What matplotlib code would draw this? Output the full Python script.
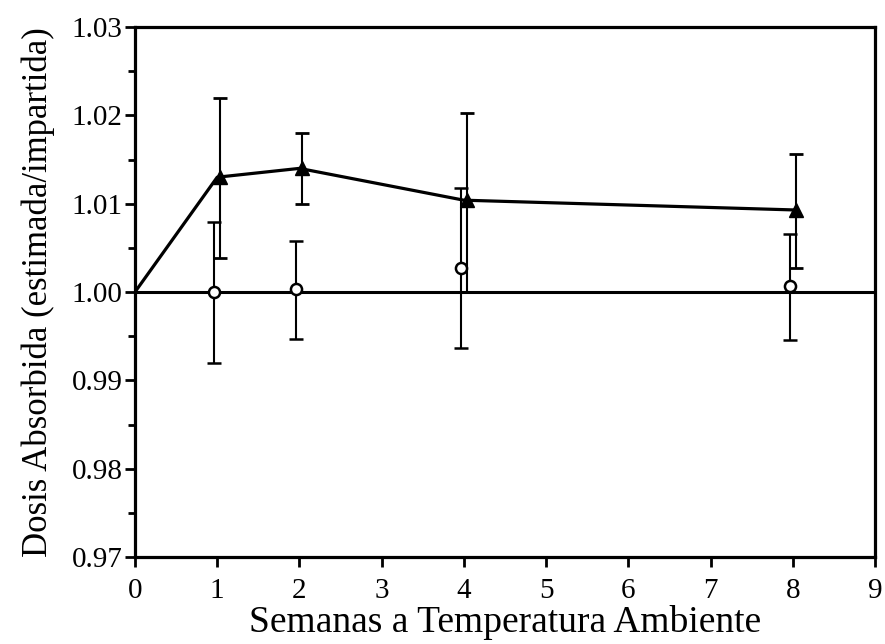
import matplotlib
matplotlib.use("Agg")
import matplotlib.pyplot as plt
import matplotlib.transforms as mtransforms
from matplotlib.ticker import MultipleLocator, FormatStrFormatter

plt.rcParams['font.family'] = ['Liberation Serif', 'DejaVu Serif']

# Weeks stored at room temperature
weeks = [1, 2, 4, 8]

# Estimated / delivered absorbed dose ratio, triangles (connected series)
tri_start_week = 0
tri_start_value = 1.000
tri_values = [1.013, 1.014, 1.0104, 1.0093]
tri_low = [1.0039, 1.010, 1.0000, 1.0027]
tri_high = [1.022, 1.018, 1.0203, 1.0156]

# Open circles
circ_values = [1.000, 1.0003, 1.0027, 1.0007]
circ_low = [0.992, 0.9947, 0.9937, 0.9946]
circ_high = [1.0079, 1.0058, 1.0118, 1.0066]

reference_level = 1.00

fig = plt.figure(figsize=(8.85, 6.44), dpi=100)
ax = fig.add_axes([0.1525, 0.135, 0.8362, 0.823])

ax.set_xlim(0, 9)
ax.set_ylim(0.97, 1.03)

# reference line at unity
ax.axhline(reference_level, color='black', lw=2.2, zorder=1)

shift_l = mtransforms.ScaledTranslation(-3/100, 0, fig.dpi_scale_trans)
shift_r = mtransforms.ScaledTranslation(3/100, 0, fig.dpi_scale_trans)

# connected triangle series
ax.plot([tri_start_week] + weeks, [tri_start_value] + tri_values,
        color='black', lw=2.3, zorder=3)
tri_err = [[v - lo for v, lo in zip(tri_values, tri_low)],
           [hi - v for v, hi in zip(tri_values, tri_high)]]
ax.errorbar(weeks, tri_values, yerr=tri_err, fmt='^', color='black',
            markersize=10, elinewidth=1.5, capsize=5, capthick=2,
            transform=ax.transData + shift_r, zorder=4)

circ_err = [[v - lo for v, lo in zip(circ_values, circ_low)],
            [hi - v for v, hi in zip(circ_values, circ_high)]]
ax.errorbar(weeks, circ_values, yerr=circ_err, fmt='o', color='black',
            markerfacecolor='white', markeredgewidth=1.8, markersize=8,
            elinewidth=1.5, capsize=5, capthick=2,
            transform=ax.transData + shift_l, zorder=5)

for sp in ax.spines.values():
    sp.set_linewidth(2.3)

ax.xaxis.set_major_locator(MultipleLocator(1))
ax.yaxis.set_major_locator(MultipleLocator(0.01))
ax.yaxis.set_minor_locator(MultipleLocator(0.005))
ax.yaxis.set_major_formatter(FormatStrFormatter('%.2f'))
ax.tick_params(axis='both', which='major', direction='out', length=7,
               width=2, labelsize=21)
ax.tick_params(axis='x', which='major', pad=8)
ax.tick_params(axis='y', which='major', pad=2)
ax.tick_params(axis='y', which='minor', direction='out', length=5, width=2)

ax.set_xlabel('Semanas a Temperatura Ambiente', fontsize=27, labelpad=1)
ax.set_ylabel('Dosis Absorbida (estimada/impartida)', fontsize=25, labelpad=12)

fig.savefig('out.png', dpi=100)
